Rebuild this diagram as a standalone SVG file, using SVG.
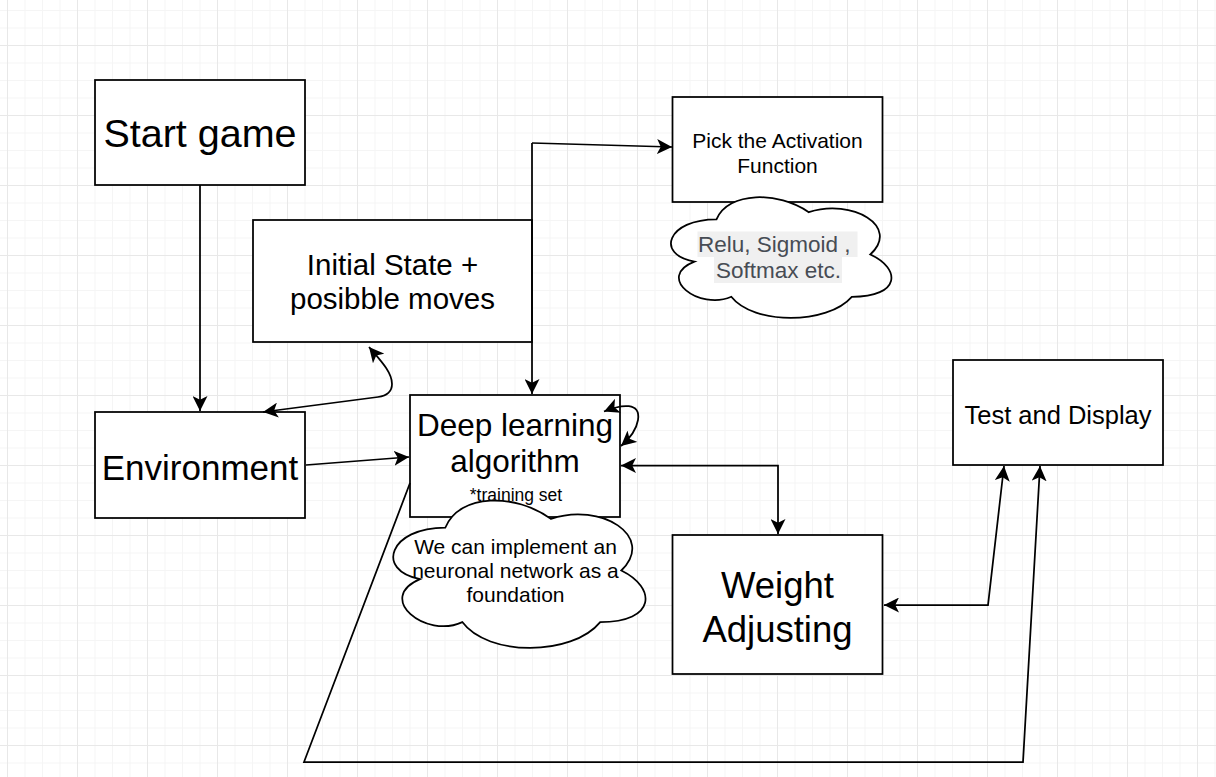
<svg xmlns="http://www.w3.org/2000/svg" width="1216" height="777" viewBox="0 0 1216 777">
<style>
.box{fill:#fff;stroke:#000;stroke-width:1.75}
.cloud{fill:#fff;stroke:#000;stroke-width:1.75}
.edge{fill:none;stroke:#000;stroke-width:1.75}
.t{font-family:"Liberation Sans",Arial,sans-serif;fill:#000;text-anchor:middle}
</style>
<defs>
<pattern id="grid" patternUnits="userSpaceOnUse" x="7" y="-25" width="70" height="70">
<rect x="0" y="0" width="70" height="70" fill="#fff"/>
<rect x="17.5" y="0" width="1" height="70" fill="#f5f5f5"/>
<rect x="35" y="0" width="1" height="70" fill="#f5f5f5"/>
<rect x="52.5" y="0" width="1" height="70" fill="#f5f5f5"/>
<rect x="0" y="17.5" width="70" height="1" fill="#f5f5f5"/>
<rect x="0" y="35" width="70" height="1" fill="#f5f5f5"/>
<rect x="0" y="52.5" width="70" height="1" fill="#f5f5f5"/>
<rect x="0" y="0" width="1" height="70" fill="#e8e8e8"/>
<rect x="0" y="0" width="70" height="1" fill="#e8e8e8"/>
</pattern>
<marker id="arr" markerUnits="userSpaceOnUse" viewBox="0 0 15 15" markerWidth="15" markerHeight="15" refX="15" refY="7.5" orient="auto-start-reverse">
<path d="M15 7.5 L0 0 L3.75 7.5 L0 15 Z" fill="#000"/>
</marker>
</defs>
<rect x="0" y="0" width="1216" height="777" fill="url(#grid)"/>

<g id="start-game">
<rect class="box" x="95" y="80" width="210" height="105"/>
<text class="t" x="200" y="147" font-size="39.5">Start game</text>
</g>
<g id="initial-state">
<rect class="box" x="253" y="220" width="279" height="122"/>
<text class="t" x="392.5" y="274.5" font-size="29.5">Initial State +</text>
<text class="t" x="392.5" y="308.5" font-size="29.5">posibble moves</text>
</g>
<g id="environment">
<rect class="box" x="95" y="412" width="210" height="106"/>
<text class="t" x="200" y="479.5" font-size="35">Environment</text>
</g>
<g id="pick-activation">
<rect class="box" x="672.5" y="97" width="210" height="105"/>
<text class="t" x="777.5" y="147.5" font-size="21">Pick the Activation</text>
<text class="t" x="777.5" y="172.5" font-size="21">Function</text>
</g>
<g id="deep-learning">
<rect class="box" x="410" y="395" width="210" height="122"/>
<text class="t" x="515" y="436" font-size="31.5">Deep learning</text>
<text class="t" x="515" y="472" font-size="31.5">algorithm</text>
<text class="t" x="516" y="501" font-size="17.5">*training set</text>
</g>
<g id="weight-adjusting">
<rect class="box" x="672.5" y="535" width="210" height="139"/>
<text class="t" x="777.5" y="598" font-size="36.5">Weight</text>
<text class="t" x="777.5" y="642" font-size="36.5">Adjusting</text>
</g>
<g id="test-display">
<rect class="box" x="953" y="360" width="210" height="105"/>
<text class="t" x="1058" y="423.5" font-size="25.5">Test and Display</text>
</g>

<g id="connectors">
<path class="edge" d="M200 185 L200 411" marker-end="url(#arr)"/>
<path class="edge" d="M369 347 C380 360 392 372 392 384 Q392 395 378 397 L263 412" marker-start="url(#arr)" marker-end="url(#arr)"/>
<path class="edge" d="M306 465 L409 457" marker-end="url(#arr)"/>
<path class="edge" d="M532 143 L532 394" marker-end="url(#arr)"/>
<path class="edge" d="M532 143 L672 147" marker-end="url(#arr)"/>
<path class="edge" d="M604 411.5 C622 404 641 402 638 420 C636 432 628 440 621 446" marker-start="url(#arr)" marker-end="url(#arr)"/>
<path class="edge" d="M621 465.5 L778 465.5 L778 534" marker-start="url(#arr)" marker-end="url(#arr)"/>
<path class="edge" d="M884 605 L988 605 L1004 466" marker-start="url(#arr)" marker-end="url(#arr)"/>
<path class="edge" d="M410 483 L304 762 L1023 762 L1040 466" marker-end="url(#arr)"/>
</g>

<g id="cloud-activations">
<path class="cloud" d="M716.5 219.3 C667.3 219.3 655 254.5 694.4 261.6 C655 277.1 699.3 310.9 731.3 296.8 C753.4 325 827.2 325 851.8 296.8 C901 296.8 901 268.6 870.3 254.5 C901 226.3 851.8 198.1 808.8 212.2 C778 191.1 728.8 191.1 716.5 219.3 Z"/>
<rect x="697.5" y="231.5" width="160" height="25.5" fill="#f0f0f0"/>
<rect x="714" y="256.5" width="128" height="26.5" fill="#f0f0f0"/>
<text class="t" x="698" y="252" font-size="22.5" style="text-anchor:start;fill:#474c54">Relu, Sigmoid ,</text>
<text class="t" x="716" y="277.5" font-size="22.5" style="text-anchor:start;fill:#474c54">Softmax etc.</text>
</g>
<g id="cloud-neuronal">
<path class="cloud" d="M445.4 527.5 C389.1 527.5 375 570.5 420 579.1 C375 598 425.7 639.3 462.3 622.1 C487.6 656.5 572 656.5 600.2 622.1 C656.5 622.1 656.5 587.7 621.3 570.5 C656.5 536.1 600.2 501.7 550.9 518.9 C515.8 493.1 459.5 493.1 445.4 527.5 Z"/>
<text class="t" x="515.5" y="553.5" font-size="21">We can implement an</text>
<text class="t" x="515.5" y="577.5" font-size="21">neuronal network as a</text>
<text class="t" x="515.5" y="601.5" font-size="21">foundation</text>
</g>
</svg>
